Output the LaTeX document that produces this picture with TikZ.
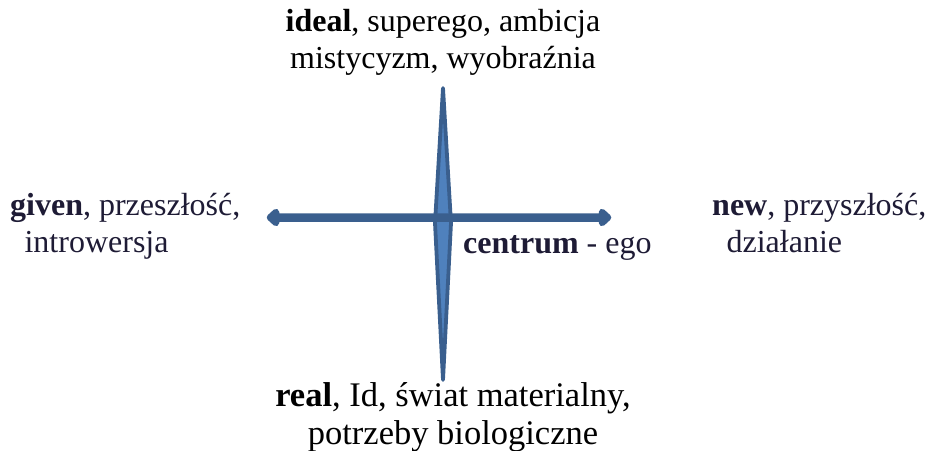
\documentclass[tikz,border=0pt]{standalone}
\usepackage{fontspec}
\setmainfont{Liberation Serif}
\usetikzlibrary{positioning}
\definecolor{axisfill}{HTML}{4F81BD}
\definecolor{axisline}{HTML}{3A5F8E}
\definecolor{sideink}{HTML}{1E1B35}
\tikzset{
  polelabel/.style={inner sep=0pt,font=\fontsize{32}{36.5}\selectfont},
  sidelabel/.style={polelabel,text=sideink},
  axisshape/.style={fill=axisfill,draw=axisline,line join=round}
}

\begin{document}
\begin{tikzpicture}[x=1pt,y=-1pt]
  \useasboundingbox (0,0) rectangle (929,450);
  % axes
  \coordinate (top) at (443,88);
  \coordinate (bot) at (443,380);
  \coordinate (lft) at (270,217.5);
  \coordinate (rgt) at (608,217.5);
  \draw[axisshape,line width=3.8pt] (top) -- (451,223) -- (bot) -- (435,223) -- cycle;
  \draw[axisshape,line width=6.5pt] (lft) -- ++(6,-5.5) -- ++(0,4.5) -- ++(326,0) -- ++(0,-4.5)
    -- (rgt) -- ++(-6,5.5) -- ++(0,-4.5) -- ++(-326,0) -- ++(0,4.5) -- cycle;
  % labels
  \node[polelabel,align=center,anchor=base] (ideal) at (443,68) {\textbf{ideal}, superego, ambicja\\mistycyzm, wyobraźnia};
  \node[sidelabel,align=left,anchor=base west] (given) at (10,252) {\textbf{given}, przeszłość,\\\hspace*{0.45em}introwersja};
  \node[sidelabel,align=left,anchor=base west] (new) at (712,252) {\textbf{new}, przyszłość,\\\hspace*{0.45em}działanie};
  \node[sidelabel,anchor=base west] (centrum) at (463,253) {\textbf{centrum} - ego};
  \node[polelabel,font=\fontsize{34.5}{38}\selectfont,align=center,anchor=base] (real) at (453,444) {\textbf{real}, Id, świat materialny,\\potrzeby biologiczne};
\end{tikzpicture}
\end{document}
